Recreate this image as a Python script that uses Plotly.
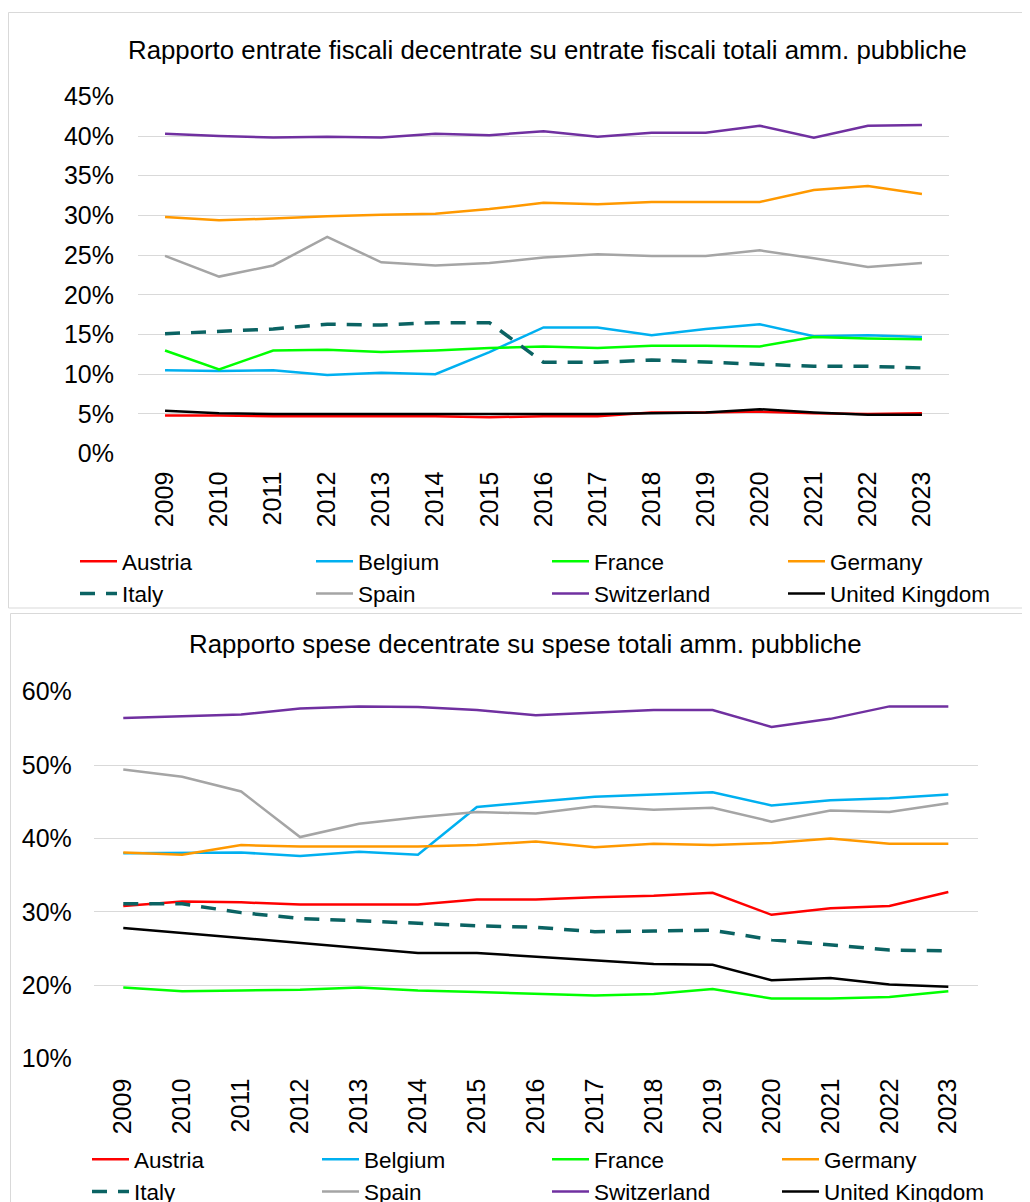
import plotly.graph_objects as go

years = [str(y) for y in range(2009, 2024)]
countries = ["Austria", "Belgium", "France", "Germany", "Italy", "Spain", "Switzerland", "United Kingdom"]
colors = ["#FF0000", "#00B0F0", "#00FF00", "#FF9900", "#0B6363", "#A5A5A5", "#7030A0", "#000000"]

# Rapporto entrate fiscali decentrate (%)
rev_austria = [4.8, 4.8, 4.7, 4.7, 4.7, 4.7, 4.6, 4.7, 4.7, 5.2, 5.2, 5.3, 5.1, 5.0, 5.1]
rev_belgium = [10.5, 10.4, 10.5, 9.9, 10.2, 10.0, 12.8, 15.9, 15.9, 14.9, 15.7, 16.3, 14.8, 14.9, 14.7]
rev_france = [13.0, 10.6, 13.0, 13.1, 12.8, 13.0, 13.3, 13.5, 13.3, 13.6, 13.6, 13.5, 14.7, 14.5, 14.4]
rev_germany = [29.8, 29.4, 29.6, 29.9, 30.1, 30.2, 30.8, 31.6, 31.4, 31.7, 31.7, 31.7, 33.2, 33.7, 32.7]
rev_italy = [15.1, 15.4, 15.7, 16.3, 16.2, 16.5, 16.5, 11.5, 11.5, 11.8, 11.5, 11.2, 11.0, 11.0, 10.8]
rev_spain = [24.9, 22.3, 23.7, 27.3, 24.1, 23.7, 24.0, 24.7, 25.1, 24.9, 24.9, 25.6, 24.6, 23.5, 24.0]
rev_switzerland = [40.3, 40.0, 39.8, 39.9, 39.8, 40.3, 40.1, 40.6, 39.9, 40.4, 40.4, 41.3, 39.8, 41.3, 41.4]
rev_uk = [5.4, 5.1, 5.0, 5.0, 5.0, 5.0, 5.0, 5.0, 5.0, 5.1, 5.2, 5.6, 5.2, 4.9, 4.9]

# Rapporto spese decentrate (%)
exp_austria = [30.8, 31.4, 31.3, 31.0, 31.0, 31.0, 31.7, 31.7, 32.0, 32.2, 32.6, 29.6, 30.5, 30.8, 32.7]
exp_belgium = [38.0, 38.0, 38.1, 37.6, 38.2, 37.8, 44.3, 45.0, 45.7, 46.0, 46.3, 44.5, 45.2, 45.5, 46.0]
exp_france = [19.7, 19.2, 19.3, 19.4, 19.7, 19.3, 19.1, 18.8, 18.6, 18.8, 19.5, 18.2, 18.2, 18.4, 19.2]
exp_germany = [38.1, 37.8, 39.1, 38.9, 38.9, 38.9, 39.1, 39.6, 38.8, 39.3, 39.1, 39.4, 40.0, 39.3, 39.3]
exp_italy = [31.1, 31.1, 29.9, 29.1, 28.8, 28.4, 28.1, 27.9, 27.3, 27.4, 27.5, 26.2, 25.5, 24.8, 24.7]
exp_spain = [49.4, 48.4, 46.4, 40.2, 42.0, 42.9, 43.6, 43.4, 44.4, 43.9, 44.2, 42.3, 43.8, 43.6, 44.8]
exp_switzerland = [56.4, 56.7, 56.9, 57.7, 58.0, 57.9, 57.5, 56.8, 57.1, 57.5, 57.5, 55.2, 56.3, 58.0, 58.0]
exp_uk = [27.8, 27.1, 26.5, 25.7, 25.1, 24.4, 24.4, 23.9, 23.5, 22.9, 22.8, 20.7, 21.0, 20.1, 19.8]

title_top = "Rapporto entrate fiscali decentrate su entrate fiscali totali amm. pubbliche"
title_bottom = "Rapporto spese decentrate su spese totali amm. pubbliche"

rev_series = [rev_austria, rev_belgium, rev_france, rev_germany, rev_italy, rev_spain, rev_switzerland, rev_uk]
exp_series = [exp_austria, exp_belgium, exp_france, exp_germany, exp_italy, exp_spain, exp_switzerland, exp_uk]

FONT = "Liberation Sans, Arial, sans-serif"
OFF = 8  # default body margin of the html page
W, H = 1030 - 2 * OFF, 1202 - OFF


def px(x):
    return (x - OFF) / W


def py(y):
    return 1 - (y - OFF) / H


fig = go.Figure()

for name, col, vals in zip(countries, colors, rev_series):
    dashed = name == "Italy"
    fig.add_trace(go.Scatter(
        x=years, y=vals, name=name, mode="lines",
        line=dict(color=col, width=3.5 if dashed else 2.5, dash="15px,11px" if dashed else "solid"),
        xaxis="x", yaxis="y", legend="legend",
    ))

for name, col, vals in zip(countries, colors, exp_series):
    dashed = name == "Italy"
    fig.add_trace(go.Scatter(
        x=years, y=vals, name=name, mode="lines",
        line=dict(color=col, width=3.5 if dashed else 2.5, dash="15px,11px" if dashed else "solid"),
        xaxis="x2", yaxis="y2", legend="legend2",
    ))

axis_common = dict(showline=False, zeroline=False, automargin=False,
                   tickfont=dict(family=FONT, size=25, color="#000000"))

fig.update_layout(
    width=W, height=H,
    margin=dict(l=0, r=0, t=0, b=0, autoexpand=False),
    paper_bgcolor="white", plot_bgcolor="white",
    font=dict(family=FONT, color="#000000"),
    showlegend=True,
    xaxis=dict(domain=[px(138), px(949)], anchor="y", type="category", range=[-0.5, 14.5],
               tickangle=-90, showgrid=False, ticks="", ticklabelstandoff=12, **axis_common),
    yaxis=dict(domain=[py(453.7), py(96.3)], anchor="x", range=[0, 45], dtick=5, ticksuffix="%",
               showgrid=True, gridcolor="#D9D9D9", gridwidth=1, ticks="", ticklabelstandoff=23, **axis_common),
    xaxis2=dict(domain=[px(93.8), px(977.8)], anchor="y2", type="category", range=[-0.5, 14.5],
                tickangle=-90, showgrid=False, ticks="", ticklabelstandoff=14, **axis_common),
    yaxis2=dict(domain=[py(1058.7), py(691.7)], anchor="x2", range=[10, 60], dtick=10, ticksuffix="%",
                showgrid=True, gridcolor="#D9D9D9", gridwidth=1, ticks="", ticklabelstandoff=21, **axis_common),
    legend=dict(orientation="h", x=px(75), y=py(540), xanchor="left", yanchor="top",
                itemwidth=37, entrywidth=184, entrywidthmode="pixels", bgcolor="rgba(0,0,0,0)",
                font=dict(family=FONT, size=22.5, color="#000000"), traceorder="normal", tracegroupgap=0),
    legend2=dict(orientation="h", x=px(87), y=py(1138), xanchor="left", yanchor="top",
                 itemwidth=37, entrywidth=178, entrywidthmode="pixels", bgcolor="rgba(0,0,0,0)",
                 font=dict(family=FONT, size=22.5, color="#000000"), traceorder="normal", tracegroupgap=0),
)

# chart frames
fig.add_shape(type="rect", xref="paper", yref="paper", x0=px(8.5), x1=px(1040), y0=py(608), y1=py(12.5),
              line=dict(color="#D9D9D9", width=1), fillcolor="rgba(0,0,0,0)", layer="below")
fig.add_shape(type="rect", xref="paper", yref="paper", x0=px(10.5), x1=px(1040), y0=py(1230), y1=py(613.5),
              line=dict(color="#D9D9D9", width=1), fillcolor="rgba(0,0,0,0)", layer="below")

# titles
fig.add_annotation(text=title_top, xref="paper", yref="paper", x=px(547), y=py(50),
                   xanchor="center", yanchor="middle", showarrow=False,
                   font=dict(family=FONT, size=25.8, color="#000000"))
fig.add_annotation(text=title_bottom, xref="paper", yref="paper", x=px(525), y=py(644),
                   xanchor="center", yanchor="middle", showarrow=False,
                   font=dict(family=FONT, size=25.8, color="#000000"))

fig.write_html("out.html")
